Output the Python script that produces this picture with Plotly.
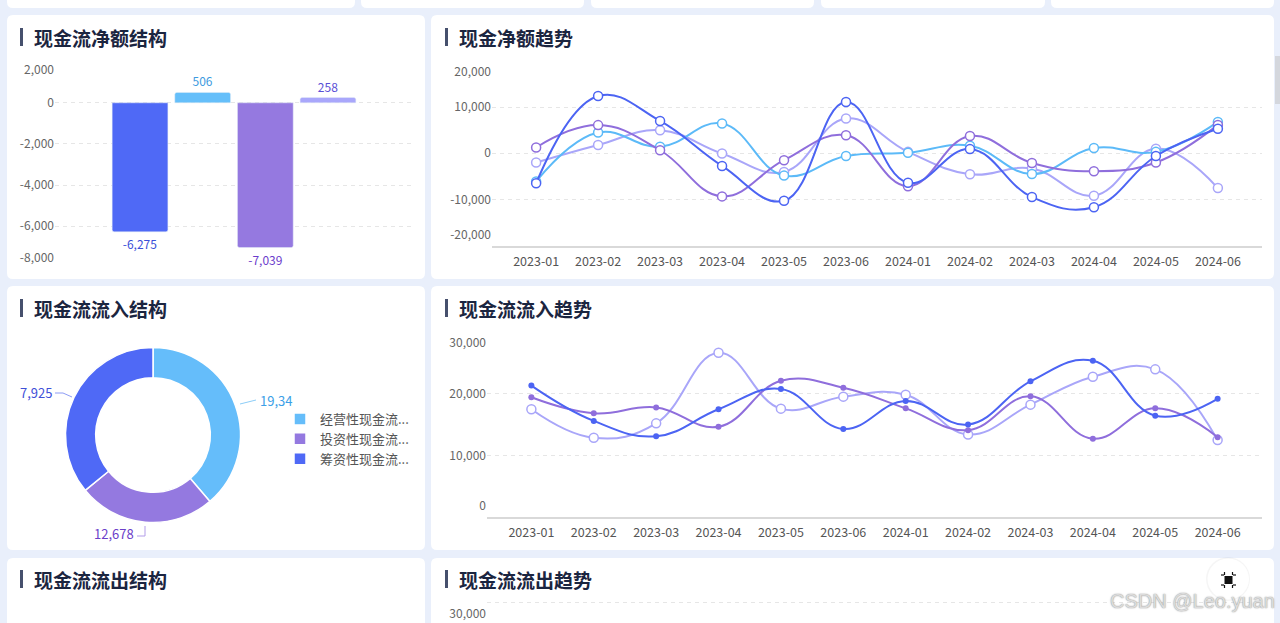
import plotly.graph_objects as go

# ── Data ──────────────────────────────────────────────────────────────────────
MONTHS = ["2023-01", "2023-02", "2023-03", "2023-04", "2023-05", "2023-06",
          "2024-01", "2024-02", "2024-03", "2024-04", "2024-05", "2024-06"]

# 现金流净额结构 (one category, four bars)
NET_BAR_NAMES = ["经营性现金流净额", "投资性现金流净额", "筹资性现金流净额", "其他现金流净额"]
NET_BAR_VALUES = [-6275, 506, -7039, 258]

# 现金净额趋势 (four series)
NET_BLUE = [-6500, 12400, 7000, -2750, -10300, 11100, -6400, 900, -9500, -11700, -600, 5300]
NET_CYAN = [-6100, 4500, 1400, 6450, -4850, -600, 100, 1650, -4500, 1150, 300, 6800]
NET_PURPLE = [1250, 6100, 650, -9350, -1500, 3900, -7150, 3750, -2100, -3900, -2000, 6150]
NET_LAVENDER = [-2000, 1800, 5000, -50, -4050, 7550, 300, -4550, -3300, -9200, 1000, -7550]

# 现金流流入结构 (donut)
INFLOW_NAMES = ["经营性现金流...", "投资性现金流...", "筹资性现金流..."]
INFLOW_VALUES = [19340, 12678, 17925]
INFLOW_LABELS = ["19,34", "12,678", "7,925"]   # as shown (clipped) in the picture

# 现金流流入趋势 (three series)
IN_BLUE = [21350, 15600, 13100, 17500, 20800, 14300, 18850, 15000, 22050, 25400, 16450, 19200]
IN_PURPLE = [19450, 16850, 17800, 14650, 22150, 21000, 17650, 14100, 19600, 12700, 17650, 12950]
IN_LAVENDER = [17500, 12850, 15200, 26700, 17600, 19550, 19850, 13400, 18250, 22800, 24000, 12500]

# ── Styling ───────────────────────────────────────────────────────────────────
W, H = 1280, 623
BG = "#e9effb"
BLUE = "#4c64f3"
CYAN = "#5cbaf8"
PURPLE = "#8f6edc"
LAVENDER = "#a9a6f9"
GRID = "#e6e6e6"
TICK_FONT = dict(size=12, color="#666")
FONT = "Noto Sans CJK SC"


def px(x):
    return x / W


def py(y):
    return 1 - y / H


def rounded(x0, y0, x1, y1, r=6):
    return (f"M{px(x0 + r)},{py(y0)} L{px(x1 - r)},{py(y0)} "
            f"Q{px(x1)},{py(y0)} {px(x1)},{py(y0 + r)} L{px(x1)},{py(y1 - r)} "
            f"Q{px(x1)},{py(y1)} {px(x1 - r)},{py(y1)} L{px(x0 + r)},{py(y1)} "
            f"Q{px(x0)},{py(y1)} {px(x0)},{py(y1 - r)} L{px(x0)},{py(y0 + r)} "
            f"Q{px(x0)},{py(y0)} {px(x0 + r)},{py(y0)} Z")


def pline(points):
    return "M" + " L".join(f"{px(x)},{py(y)}" for x, y in points)


fig = go.Figure()

# ── Bar chart: 现金流净额结构 ────────────────────────────────────────────────
bar_colors = ["#4f69f6", "#65bffa", "#9579e0", "#a9a7fb"]
bar_text_colors = ["#3a4fd8", "#3d9be0", "#6b3ccc", "#5a4fd6"]
for name, val, c, tc in zip(NET_BAR_NAMES, NET_BAR_VALUES, bar_colors, bar_text_colors):
    fig.add_trace(go.Bar(
        x=["净额"], y=[val], name=name, marker=dict(color=c, cornerradius=2),
        texttemplate="%{y:,}", textposition="outside",
        textfont=dict(size=12, color=tc), cliponaxis=False,
        showlegend=False, xaxis="x", yaxis="y", hoverinfo="skip"))


def line(y, color, xa, ya, hollow=True):
    if hollow:
        marker = dict(size=9, color="white", line=dict(color=color, width=1.5))
    else:
        marker = dict(size=6, color=color)
    return go.Scatter(
        x=MONTHS, y=y, mode="lines+markers",
        line=dict(color=color, width=2, shape="spline", smoothing=1.2),
        marker=marker, xaxis=xa, yaxis=ya, showlegend=False,
        cliponaxis=False, hoverinfo="skip")


# ── Line chart: 现金净额趋势 ─────────────────────────────────────────────────
for series, color in [(NET_LAVENDER, LAVENDER), (NET_CYAN, CYAN),
                      (NET_PURPLE, PURPLE), (NET_BLUE, BLUE)]:
    fig.add_trace(line(series, color, "x2", "y2"))

# ── Line chart: 现金流流入趋势 ───────────────────────────────────────────────
fig.add_trace(line(IN_LAVENDER, LAVENDER, "x3", "y3", hollow=True))
fig.add_trace(line(IN_PURPLE, PURPLE, "x3", "y3", hollow=False))
fig.add_trace(line(IN_BLUE, BLUE, "x3", "y3", hollow=False))

# ── Donut: 现金流流入结构 ────────────────────────────────────────────────────
fig.add_trace(go.Pie(
    labels=INFLOW_NAMES, values=INFLOW_VALUES, hole=0.655, sort=False,
    direction="clockwise", rotation=0,
    marker=dict(colors=["#65bdfa", "#9479e0", "#4f69f6"],
                line=dict(color="white", width=1.5)),
    textinfo="none", hoverinfo="skip",
    domain=dict(x=[px(65.5), px(240.5)], y=[py(522.5), py(347.5)])))

# empty trace for the clipped third-row chart
fig.add_trace(go.Scatter(x=[], y=[], xaxis="x4", yaxis="y4", showlegend=False))

# ── Axes ──────────────────────────────────────────────────────────────────────
def yaxis(dom, rng, vals, texts):
    return dict(domain=dom, range=rng, tickvals=vals, ticktext=texts,
                showgrid=True, gridcolor=GRID, griddash="4px,4px", gridwidth=1,
                zeroline=False, showline=False, tickfont=TICK_FONT,
                automargin=False, fixedrange=True)


def xaxis_cat(dom, anchor):
    return dict(domain=dom, anchor=anchor, type="category", showgrid=False,
                showline=True, linecolor="#d9d9d9", linewidth=2,
                tickfont=dict(size=12.5, color="#555"), ticklabelstandoff=3,
                automargin=False, fixedrange=True)


axes = {}
axes["xaxis"] = dict(domain=[px(55), px(413)], anchor="y", visible=False,
                     automargin=False, fixedrange=True)
axes["yaxis"] = yaxis([py(267.3), py(61.7)], [-8000, 2000],
                      [2000, 0, -2000, -4000, -6000, -8000],
                      ["", "0", "-2,000", "-4,000", "-6,000", ""])
axes["yaxis"]["anchor"] = "x"

axes["xaxis2"] = xaxis_cat([px(492), px(1262)], "y2")
axes["yaxis2"] = yaxis([py(245.5), py(61)], [-20000, 20000],
                       [20000, 10000, 0, -10000, -20000],
                       ["", "10,000", "0", "-10,000", ""])
axes["yaxis2"]["anchor"] = "x2"

axes["xaxis3"] = xaxis_cat([px(487), px(1262)], "y3")
axes["yaxis3"] = yaxis([py(516.7), py(332.5)], [0, 30000],
                       [30000, 20000, 10000, 0], ["", "20,000", "10,000", ""])
axes["yaxis3"]["anchor"] = "x3"

axes["xaxis4"] = dict(domain=[px(487), px(1262)], anchor="y4", visible=False,
                      automargin=False, fixedrange=True)
axes["yaxis4"] = yaxis([0, py(598)], [26690, 30765], [30000], [""])
axes["yaxis4"]["anchor"] = "x4"

# edge labels that sit inside the first/last grid line (positive = moved down)
EDGE_LABELS = [
    ("y", "x", [-8000, 2000], 2000, "2,000", 8),
    ("y", "x", [-8000, 2000], -8000, "-8,000", -10),
    ("y2", "x2", [-20000, 20000], 20000, "20,000", 11),
    ("y2", "x2", [-20000, 20000], -20000, "-20,000", -11),
    ("y3", "x3", [0, 30000], 30000, "30,000", 10),
    ("y3", "x3", [0, 30000], 0, "0", -11),
    ("y4", "x4", [26690, 30765], 30000, "30,000", 11),
]
for i, (base, anchor, rng, val, text, down) in enumerate(EDGE_LABELS):
    n = 5 + i
    axes[f"yaxis{n}"] = dict(overlaying=base, anchor=anchor, range=rng,
                             tickvals=[val], ticktext=[text], ticklabelshift=down,
                             showgrid=False, zeroline=False, showline=False,
                             tickfont=TICK_FONT, automargin=False, fixedrange=True)
    fig.add_trace(go.Scatter(x=[], y=[], xaxis=anchor, yaxis=f"y{n}", showlegend=False))

# ── Cards, titles, decorations ────────────────────────────────────────────────
shapes = []
for x0, x1 in [(7, 355), (361, 584), (591, 814), (821, 1045), (1051, 1274)]:
    shapes.append(dict(type="path", path=rounded(x0, -20, x1, 8), fillcolor="white",
                       line=dict(width=0), layer="below", xref="paper", yref="paper"))
for y0, y1 in [(15, 279), (286, 550), (558, 660)]:
    for x0, x1 in [(7, 425), (431, 1274)]:
        shapes.append(dict(type="path", path=rounded(x0, y0, x1, y1), fillcolor="white",
                           line=dict(width=0), layer="below", xref="paper", yref="paper"))

TITLES = [("现金流净额结构", "现金净额趋势", 37),
          ("现金流流入结构", "现金流流入趋势", 308),
          ("现金流流出结构", "现金流流出趋势", 579)]
annotations = []
for left, right, yc in TITLES:
    for text, xb in [(left, 20), (right, 445)]:
        shapes.append(dict(type="rect", x0=px(xb), x1=px(xb + 3), y0=py(yc + 9), y1=py(yc - 9),
                           fillcolor="#46506d", line=dict(width=0), xref="paper", yref="paper"))
        annotations.append(dict(text=f"<b>{text}</b>", x=px(xb + 12), y=py(yc), xanchor="left",
                                yanchor="middle", showarrow=False, xref="paper", yref="paper",
                                font=dict(size=19, color="#1b2540", family=FONT)))

# donut value labels and leader lines
for text, x, y, anchor, color, pts, lc in [
        (INFLOW_LABELS[0], 258, 400, "left", "#3c9fe7", [(240, 404), (256, 400)], "#8ccdf7"),
        (INFLOW_LABELS[2], 54, 392, "right", "#3e50d8", [(55, 393), (63, 393), (72, 397)], "#8d9cf5"),
        (INFLOW_LABELS[1], 136, 533, "right", "#6b40c9", [(137, 536), (145, 536), (145, 526)], "#b29de9")]:
    annotations.append(dict(text=text, x=px(x), y=py(y), xanchor=anchor, yanchor="middle",
                            showarrow=False, xref="paper", yref="paper",
                            font=dict(size=13, color=color, family=FONT)))
    shapes.append(dict(type="path", path=pline(pts), line=dict(color=lc, width=1),
                       xref="paper", yref="paper"))

# scrollbar thumb
shapes.append(dict(type="rect", x0=px(1275), x1=px(1280), y0=py(104), y1=py(56),
                   fillcolor="#d4d7dd", line=dict(width=0), xref="paper", yref="paper"))

# floating icon button
shapes.append(dict(type="circle", x0=px(1206), x1=px(1250), y0=py(601), y1=py(557),
                   fillcolor="rgba(0,0,0,0.04)", line=dict(width=0), xref="paper", yref="paper"))
shapes.append(dict(type="circle", x0=px(1207.5), x1=px(1249), y0=py(599.5), y1=py(558.5),
                   fillcolor="white", line=dict(width=0), xref="paper", yref="paper"))
shapes.append(dict(type="rect", x0=px(1224.5), x1=px(1232.5), y0=py(584), y1=py(576),
                   fillcolor="#111", line=dict(width=0), xref="paper", yref="paper"))
for a, b in [((1221, 575), (1224, 575)), ((1233, 575), (1236, 575)),
             ((1221, 585), (1224, 585)), ((1233, 585), (1236, 585)),
             ((1224.5, 572), (1224.5, 575)), ((1232.5, 572), (1232.5, 575)),
             ((1224.5, 585), (1224.5, 588)), ((1232.5, 585), (1232.5, 588))]:
    shapes.append(dict(type="line", x0=px(a[0]), y0=py(a[1]), x1=px(b[0]), y1=py(b[1]),
                       line=dict(color="#111", width=1.2), xref="paper", yref="paper"))

annotations.append(dict(text="CSDN @Leo.yuan", x=px(1277), y=py(601), xanchor="right",
                        yanchor="middle", showarrow=False, xref="paper", yref="paper",
                        font=dict(size=20, color="#dcdcdc", family="Liberation Sans",
                                  shadow="0px 0px 1.5px #777")))

fig.update_layout(
    width=W, height=H, margin=dict(l=0, r=0, t=0, b=0, autoexpand=False),
    paper_bgcolor=BG, plot_bgcolor="rgba(0,0,0,0)",
    font=dict(family=FONT, color="#555"),
    barmode="group", bargap=0.3, bargroupgap=0.11,
    legend=dict(x=px(280), y=py(404), xanchor="left", yanchor="top",
                font=dict(size=13, color="#555", family=FONT),
                bgcolor="rgba(0,0,0,0)", tracegroupgap=0, itemclick=False,
                itemdoubleclick=False),
    shapes=shapes, annotations=annotations, **axes)

# the page's default 8px body margin would push the fixed-size figure off the window
fig.write_html("out.html", config={"displayModeBar": False},
               post_script="document.body.style.margin='0';document.body.style.overflow='hidden';")
